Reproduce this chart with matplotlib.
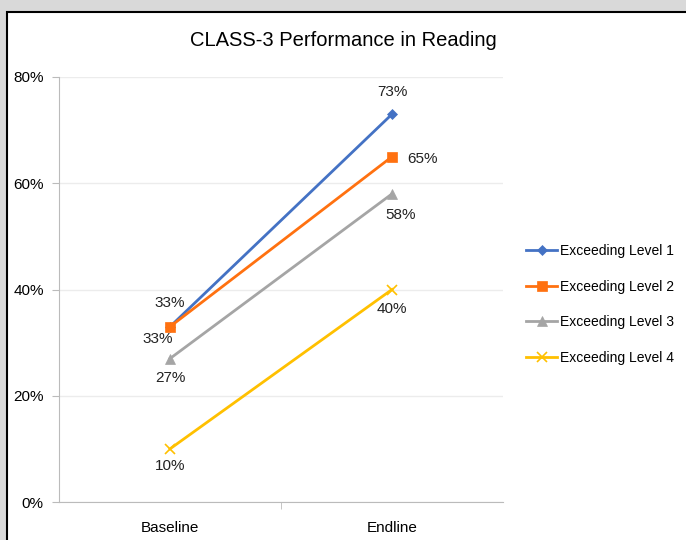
import matplotlib.pyplot as plt
from matplotlib.patches import Rectangle
from matplotlib.ticker import PercentFormatter, FixedLocator, NullFormatter
from matplotlib import font_manager

names = {f.name for f in font_manager.fontManager.ttflist}
fam = 'Liberation Sans Narrow' if 'Liberation Sans Narrow' in names else 'Liberation Sans'
plt.rcParams['font.family'] = [fam, 'DejaVu Sans']

categories = ['Baseline', 'Endline']
series = ['Exceeding Level 1', 'Exceeding Level 2', 'Exceeding Level 3', 'Exceeding Level 4']
level1 = [33, 73]
level2 = [33, 65]
level3 = [27, 58]
level4 = [10, 40]

colors = ['#4472C4', '#FF7110', '#A5A5A5', '#FFC000']
markers = ['D', 's', '^', 'x']
msizes = [5, 7, 7, 7]
# label offsets (points) for baseline / endline
offsets = [[(0, 17), (0, 16)],
           [(-9, -9), (22, -2)],
           [(0, -14), (6, -15)],
           [(0, -12), (0, -14)]]

fig = plt.figure(figsize=(6.86, 5.4), dpi=100, facecolor='#d9d9d9')
fig.patches.append(Rectangle((7 / 686, -0.1), 1, 1.1 - 12 / 540, transform=fig.transFigure,
                             facecolor='white', edgecolor='black', linewidth=1.5, zorder=-5))

ax = fig.add_axes([59 / 686, 1 - 502 / 540, 444 / 686, 425 / 540])
ax.set_facecolor('none')
x = [0, 1]
for vals, name, c, m, ms, offs in zip([level1, level2, level3, level4], series, colors, markers, msizes, offsets):
    ax.plot(x, vals, color=c, marker=m, markersize=ms, linewidth=2, label=name,
            markeredgewidth=1.2 if m == 'x' else 0.5)
    for xi, v, o in zip(x, vals, offs):
        ax.annotate(f'{v}%', (xi, v), xytext=o, textcoords='offset points',
                    ha='center', va='center', fontsize=11, color='#222222')

ax.set_xlim(-0.5, 1.5)
ax.set_ylim(0, 80)
ax.yaxis.set_major_locator(FixedLocator([0, 20, 40, 60, 80]))
ax.yaxis.set_major_formatter(PercentFormatter(decimals=0))
ax.grid(axis='y', color='#ececec', linewidth=1)
ax.set_axisbelow(True)

ax.set_xticks([0, 1])
ax.set_xticklabels(categories)
ax.tick_params(axis='x', length=0, pad=14, labelsize=11)
ax.set_xticks([0.5], minor=True)
ax.xaxis.set_minor_formatter(NullFormatter())
ax.tick_params(axis='x', which='minor', length=5, color='#bbbbbb', direction='out')
ax.tick_params(axis='y', length=5, color='#bbbbbb', labelsize=11, pad=6)
for s in ['top', 'right']:
    ax.spines[s].set_visible(False)
for s in ['left', 'bottom']:
    ax.spines[s].set_color('#bbbbbb')

fig.text(0.5, 1 - 41 / 540, 'CLASS-3 Performance in Reading', ha='center', va='center', fontsize=14.5)

leg = ax.legend(loc='center left', bbox_to_anchor=(1.04, 0.465), frameon=False, fontsize=10,
                handlelength=2.2, handletextpad=0.2, labelspacing=1.55, borderaxespad=0)

fig.savefig('out.png', dpi=100, facecolor=fig.get_facecolor())
